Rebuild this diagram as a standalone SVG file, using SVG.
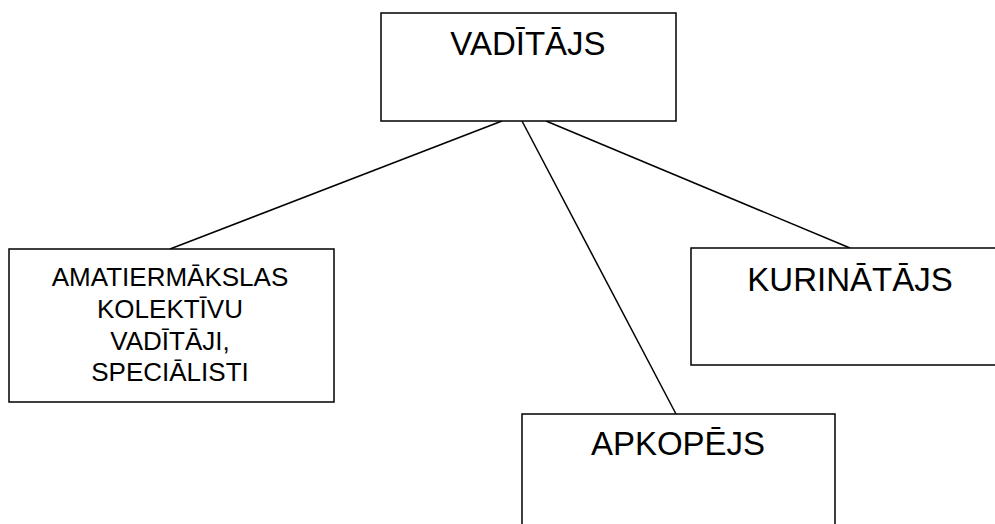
<svg xmlns="http://www.w3.org/2000/svg" width="995" height="524" viewBox="0 0 995 524">
<style>
.box{fill:#fff;stroke:#000;stroke-width:1.5}
.big{font-family:"Liberation Sans",Arial,sans-serif;font-size:33px;fill:#000;text-anchor:middle}
.small{font-family:"Liberation Sans",Arial,sans-serif;font-size:26px;fill:#000;text-anchor:middle}
.conn line{stroke:#000;stroke-width:1.5}
</style>
<rect width="995" height="524" fill="#fff"/>
<g id="connectors" class="conn">
<line x1="502" y1="121" x2="170" y2="249"/>
<line x1="522" y1="121" x2="676" y2="414"/>
<line x1="546" y1="121" x2="850" y2="248"/>
</g>
<g id="vaditajs">
<rect class="box" x="381" y="13" width="295" height="108"/>
<text class="big" x="528" y="55">VADĪTĀJS</text>
</g>
<g id="amatiermakslas">
<rect class="box" x="9" y="249" width="325" height="153"/>
<text class="small" x="170" y="286">AMATIERMĀKSLAS</text>
<text class="small" x="170" y="318">KOLEKTĪVU</text>
<text class="small" x="170" y="349.5">VADĪTĀJI,</text>
<text class="small" x="170" y="381">SPECIĀLISTI</text>
</g>
<g id="kurinatajs">
<rect class="box" x="691" y="248" width="318" height="117"/>
<text class="big" x="850" y="291">KURINĀTĀJS</text>
</g>
<g id="apkopejs">
<rect class="box" x="522" y="414" width="313" height="130"/>
<text class="big" x="678" y="455">APKOPĒJS</text>
</g>
</svg>
